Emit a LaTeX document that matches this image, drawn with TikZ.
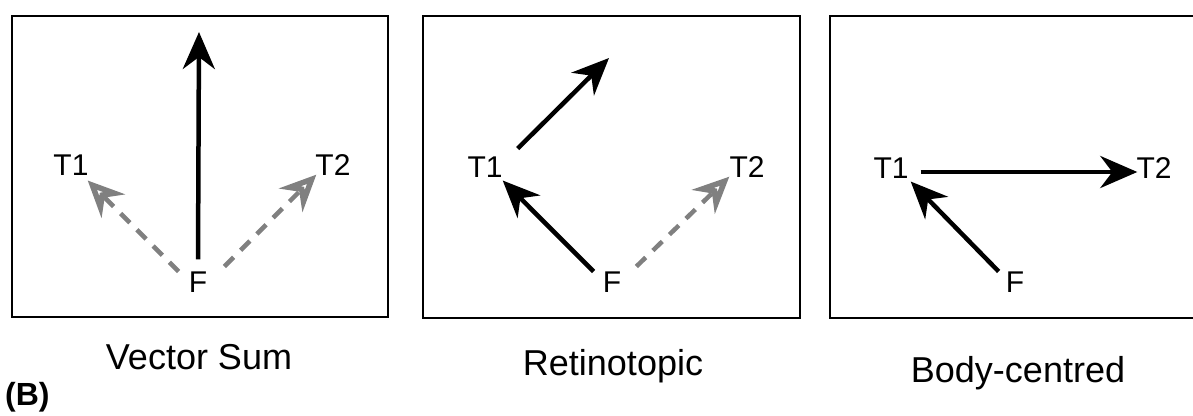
\documentclass[tikz,border=0pt]{standalone}
\usepackage{fontspec}
\setmainfont{Liberation Sans}
\usepackage{tikz}
\usetikzlibrary{arrows.meta}
\definecolor{grisflecha}{RGB}{128,128,128}

\begin{document}
\begin{tikzpicture}[x=1pt,y=-1pt,
  lbl/.style={font=\fontsize{30}{33}\selectfont,inner sep=0pt},
  titulo/.style={font=\fontsize{36}{40}\selectfont,inner sep=0pt,anchor=base},
  caja/.style={draw,line width=2pt},
  vec/.style={line width=4.5pt,-{Stealth[length=37pt,width=32pt,inset=12pt]}},
  pred/.style={grisflecha,line width=4.5pt,dash pattern=on 13pt off 10pt,
    -{Stealth[open,fill=white,length=36pt,width=33pt,inset=12pt,line width=5.5pt]}}]
  \useasboundingbox (0,0) rectangle (1193,415);
  \clip (0,0) rectangle (1193,415);
  % vector sum
  \draw[caja] (12,16) rectangle (388,317);
  \node[lbl] (vsF) at (198,282) {F};
  \node[lbl] (vsT1) at (71,165) {T1};
  \node[lbl] (vsT2) at (333,165) {T2};
  \coordinate (vsTop) at (199,32);
  \draw[pred] ([xshift=-10pt]vsF.north west) -- ([xshift=-1pt,yshift=-5pt]vsT1.south east);
  \draw[pred] ([xshift=17pt,yshift=5pt]vsF.north east) -- ([xshift=1pt,yshift=1pt]vsT2.south west);
  \draw[vec] ([yshift=12pt]vsF.north) -- (vsTop);
  \node[titulo] (vsTit) at (199,369) {Vector Sum};
  % retinotopic
  \draw[caja] (423,16) rectangle (800,318);
  \node[lbl] (rtF) at (612,282) {F};
  \node[lbl] (rtT1) at (485,167) {T1};
  \node[lbl] (rtT2) at (747,167) {T2};
  \coordinate (rtTop) at (609,58);
  \draw[vec] ([xshift=-9pt]rtF.north west) -- ([yshift=-3pt]rtT1.south east);
  \draw[vec] ([xshift=15pt,yshift=8pt]rtT1.north east) -- (rtTop);
  \draw[pred] ([xshift=15pt,yshift=5pt]rtF.north east) -- ([yshift=1pt]rtT2.south west);
  \node[titulo] (rtTit) at (613,375) {Retinotopic};
  % body-centred
  \draw[caja] (830,16) rectangle (1210,318);
  \node[lbl] (bcF) at (1015,282) {F};
  \node[lbl] (bcT1) at (891,168) {T1};
  \node[lbl] (bcT2) at (1154,168) {T2};
  \draw[vec] ([xshift=-7pt]bcF.north west) -- ([xshift=2pt,yshift=-3pt]bcT1.south east);
  \draw[vec] ([xshift=12pt,yshift=-4pt]bcT1.east) -- ([xshift=1pt,yshift=-4pt]bcT2.west);
  \node[titulo] (bcTit) at (1018,382) {Body-centred};
  \node[font=\fontsize{32}{35}\selectfont\bfseries,inner sep=0pt,anchor=base west] (panel) at (5,405) {(B)};
\end{tikzpicture}
\end{document}
